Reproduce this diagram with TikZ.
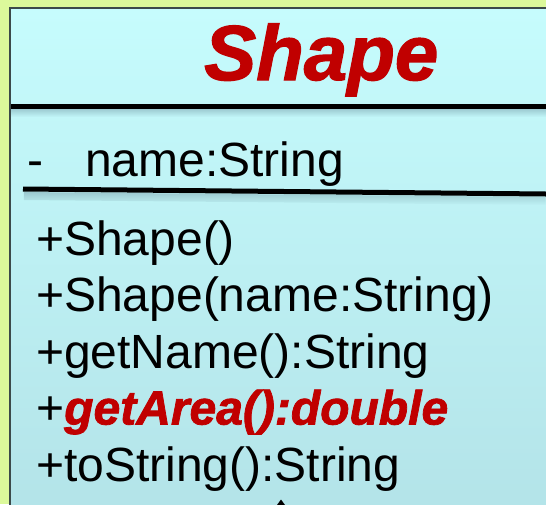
\documentclass[tikz,border=0pt]{standalone}
\usepackage{fontspec}
\setmainfont{Liberation Sans}
\newfontfamily\heavyfont[FakeBold=1.6]{Liberation Sans Bold Italic}
\usetikzlibrary{fadings}
\definecolor{bggreen}{HTML}{DCF99B}
\definecolor{boxtop}{HTML}{C6FCFD}
\definecolor{boxbot}{HTML}{B3E3E8}
\definecolor{borderc}{HTML}{3C4A4A}
\definecolor{titlered}{HTML}{C00000}
\tikzset{
  memb/.style={anchor=base west, inner sep=0pt, font=\fontsize{48}{56}\selectfont, text=black},
  titletext/.style={anchor=base west, inner sep=0pt, font=\fontsize{78}{90}\selectfont\heavyfont, text=titlered},
  sepline/.style={line width=5pt, black},
  shadowband/.style={fill=black!60!cyan, fill opacity=0.3, path fading=south}
}
\begin{document}
\begin{tikzpicture}[x=1pt,y=-1pt]
\useasboundingbox (0,0) rectangle (546,504);
\fill[bggreen] (0,0) rectangle (546,504);
% class box
\shade[top color=boxtop, bottom color=boxbot] (10,8) rectangle (560,520);
\draw[borderc, line width=2pt] (10,520) -- (10,8) -- (560,8);
% shadows under separator lines
\fill[shadowband] (11,109) rectangle (546,117);
\fill[shadowband] (24,192) -- (546,197) -- (546,205) -- (24,200) -- cycle;
% separator lines
\coordinate (s1a) at (11,106.5);
\coordinate (s1b) at (546,106.5);
\coordinate (s2a) at (23,189);
\coordinate (s2b) at (546,194);
\draw[sepline] (s1a) -- (s1b);
\draw[sepline] (s2a) -- (s2b);
% title
\node[titletext] (title) at (204,80) {Shape};
% attribute
\node[memb] (attrdash) at (27,176) {-};
\node[memb] (attr) at (85,176) {name:String};
% methods
\node[memb] (m1) at (36,255) {+Shape()};
\node[memb] (m2) at (36,311.5) {+Shape(name:String)};
\node[memb] (m3) at (36,368) {+getName():String};
\node[memb] (m4) at (36,424.5) {+\textcolor{titlered}{\heavyfont getArea():double}};
\node[memb] (m5) at (36,481) {+toString():String};
% tip of inheritance arrowhead
\fill[black] (281,499.5) -- (277,505) -- (285,505) -- cycle;
\end{tikzpicture}
\end{document}
